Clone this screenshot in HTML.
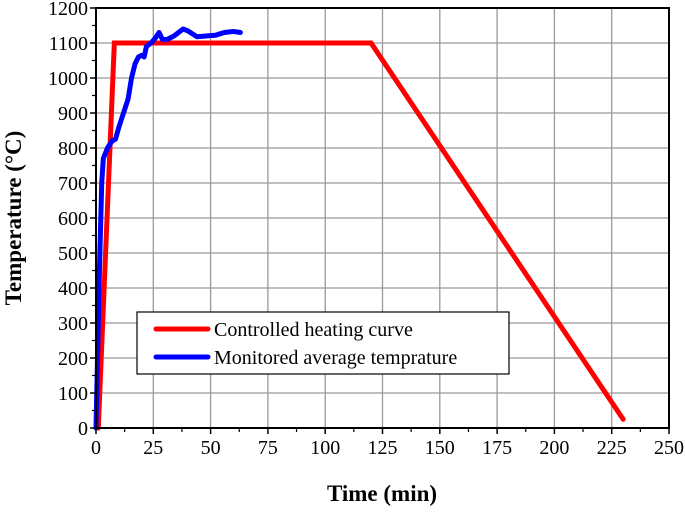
<!DOCTYPE html>
<html><head><meta charset="utf-8"><style>
body{margin:0;background:#fff}
svg text{font-family:"Liberation Serif",serif;fill:#000}
</style></head><body>
<svg id="chart" width="685" height="508" viewBox="0 0 685 508" xmlns="http://www.w3.org/2000/svg">
<g id="grid"></g>
<g id="series"></g>
<g id="axes"></g>
<g font-size="20" text-anchor="middle">
<text x="96" y="454">0</text>
<text x="153.3" y="454">25</text>
<text x="210.6" y="454">50</text>
<text x="267.9" y="454">75</text>
<text x="325.2" y="454">100</text>
<text x="382.5" y="454">125</text>
<text x="439.8" y="454">150</text>
<text x="497.1" y="454">175</text>
<text x="554.4" y="454">200</text>
<text x="611.7" y="454">225</text>
<text x="669" y="454">250</text>
</g>
<g font-size="20" text-anchor="end">
<text x="88" y="435">0</text>
<text x="88" y="400">100</text>
<text x="88" y="365">200</text>
<text x="88" y="330">300</text>
<text x="88" y="295">400</text>
<text x="88" y="260">500</text>
<text x="88" y="225">600</text>
<text x="88" y="190">700</text>
<text x="88" y="155">800</text>
<text x="88" y="120">900</text>
<text x="88" y="85">1000</text>
<text x="88" y="50">1100</text>
<text x="88" y="15">1200</text>
</g>
<text x="382" y="501" font-size="23" font-weight="bold" text-anchor="middle">Time (min)</text>
<text transform="translate(21,218) rotate(-90)" font-size="23" font-weight="bold" text-anchor="middle">Temperature (°C)</text>
<g>
<rect x="137" y="312" width="372" height="62" fill="#fff" stroke="#000" stroke-width="1.2"/>
<line x1="156" y1="329" x2="208" y2="329" stroke="#ff0000" stroke-width="5" stroke-linecap="round"/>
<text x="214" y="336" font-size="20">Controlled heating curve</text>
<line x1="156" y1="357" x2="208" y2="357" stroke="#0000ff" stroke-width="5" stroke-linecap="round"/>
<text x="214" y="364" font-size="20">Monitored average temprature</text>
</g>
</svg>
<script>
const xTicks=[0,25,50,75,100,125,150,175,200,225,250];
const yTicks=[0,100,200,300,400,500,600,700,800,900,1000,1100,1200];
const controlledTime=[1,8,120,230];
const controlledTemp=[0,1100,1100,25];
const monitoredTime=[0,1.5,2.5,3.2,5,7,8.5,10,12,14,15.5,17,18.5,20,21,22,24,26,27.5,29,31,34,38,40,44,48,52,56,60,63];
const monitoredTemp=[0,450,700,770,800,820,825,860,900,940,1000,1040,1060,1065,1060,1090,1100,1115,1130,1110,1110,1120,1140,1135,1118,1120,1122,1130,1133,1130];
const L=96,R=669,T=8,B=428;
const sx=v=>L+(v-0)/250*(R-L);
const sy=v=>B-(v-0)/1200*(B-T);
const NS="http://www.w3.org/2000/svg";
function mk(tag,attrs,parent){const e=document.createElementNS(NS,tag);for(const k in attrs)e.setAttribute(k,attrs[k]);parent.appendChild(e);return e;}
const grid=document.getElementById('grid'),axes=document.getElementById('axes'),series=document.getElementById('series');
xTicks.forEach((t,i)=>{
 if(i>0&&i<xTicks.length-1){const g=mk('line',{x1:sx(t),x2:sx(t),y1:T,y2:B,stroke:'#999','stroke-width':1.3},grid);
 
 }
 const tk=mk('line',{x1:sx(t),x2:sx(t),y1:B,y2:B+6,stroke:'#000','stroke-width':1.5},axes);
 
 
 if(i<xTicks.length-1){const m=mk('line',{x1:sx(t+12.5),x2:sx(t+12.5),y1:B,y2:B+4,stroke:'#000','stroke-width':1.2},axes);
 
 }
});
yTicks.forEach((t,i)=>{
 if(i>0&&i<yTicks.length-1){const g=mk('line',{x1:L,x2:R,y1:sy(t),y2:sy(t),stroke:'#999','stroke-width':1.3},grid);
 
 }
 const tk=mk('line',{x1:L-6,x2:L,y1:sy(t),y2:sy(t),stroke:'#000','stroke-width':1.5},axes);
 
 
 if(i<yTicks.length-1){const m=mk('line',{x1:L-4,x2:L,y1:sy(t+50),y2:sy(t+50),stroke:'#000','stroke-width':1.2},axes);
 
 }
});
const frame=mk('rect',{x:L,y:T,width:R-L,height:B-T,fill:'none',stroke:'#000','stroke-width':2},axes);


const pts=(xs,ys)=>xs.map((x,i)=>sx(x)+','+sy(ys[i])).join(' ');
const red=mk('polyline',{points:pts(controlledTime,controlledTemp),fill:'none',stroke:'#ff0000','stroke-width':5,'stroke-linejoin':'miter','stroke-linecap':'round'},series);


const blue=mk('polyline',{points:pts(monitoredTime,monitoredTemp),fill:'none',stroke:'#0000ff','stroke-width':5,'stroke-linejoin':'round','stroke-linecap':'round'},series);


</script>
</body></html>
